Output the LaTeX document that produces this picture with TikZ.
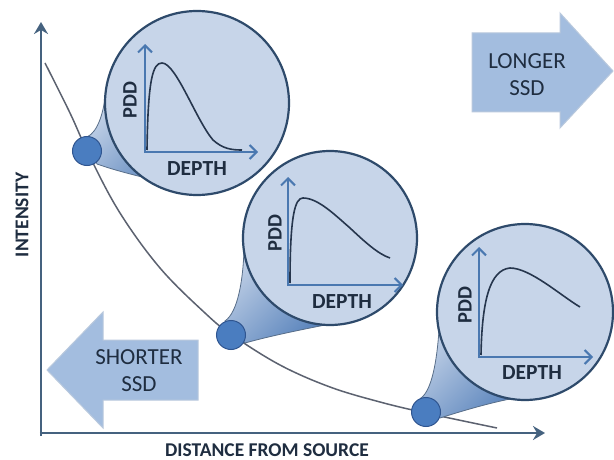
\documentclass[tikz,border=0pt]{standalone}
\usepackage{fontspec}
\setmainfont{Carlito}
\usetikzlibrary{arrows.meta}
\definecolor{circfill}{HTML}{C7D5E9}
\definecolor{circline}{HTML}{2E4A6B}
\definecolor{dotfill}{HTML}{4A7DC0}
\definecolor{dotline}{HTML}{2F5590}
\definecolor{miniaxis}{HTML}{4A78B0}
\definecolor{minicurve}{HTML}{26364D}
\definecolor{mainaxis}{HTML}{45627F}
\definecolor{maincurve}{HTML}{5C6270}
\definecolor{arrfill}{HTML}{A3BDDF}
\definecolor{arrline}{HTML}{B9C9DD}
\definecolor{txt}{HTML}{1F2D40}
\definecolor{taildark}{HTML}{5A84BC}
\tikzset{
  bubble/.style={draw=circline, line width=2.2pt, fill=circfill},
  tail/.style={draw=circline!80, line width=0.8pt, top color=circfill, bottom color=taildark, shading angle=45},
  dotstyle/.style={circle, draw=dotline, line width=1pt, fill=dotfill, minimum size=29pt, inner sep=0pt},
  miniax/.style={draw=miniaxis, line width=2pt, -{Straight Barb[length=7pt,width=14pt,line width=2pt]}},
  minicv/.style={draw=minicurve, line width=1.6pt},
  lbl/.style={text=txt, font=\fontsize{21.5}{24}\selectfont\bfseries, inner sep=0pt},
  pddlbl/.style={text=txt, font=\fontsize{20.5}{24}\selectfont\bfseries, inner sep=0pt, rotate=90},
  biglbl/.style={text=txt, font=\fontsize{19.5}{22}\selectfont\bfseries, inner sep=0pt},
  arrtxt/.style={text=txt, font=\fontsize{23}{27}\selectfont, align=center, inner sep=0pt},
  bigarrow/.style={fill=arrfill, draw=arrline, line width=1pt},
  mainax/.style={draw=mainaxis, line width=2.5pt, -{Stealth[length=12pt,width=14pt,inset=4pt]}}
}
\begin{document}
\begin{tikzpicture}[x=1pt,y=-1pt]
\useasboundingbox (0,0) rectangle (614,460);
\fill[white] (0,0) rectangle (614,460);

% big arrows
\draw[bigarrow] (472,33) -- (560,33) -- (560,13) -- (613,71) -- (560,128) -- (560,112) -- (472,112) -- cycle;
\node[arrtxt] (longer) at (527,75) {LONGER\\SSD};
\draw[bigarrow] (198,340) -- (103,340) -- (103,312) -- (47,370) -- (103,428) -- (103,400) -- (198,400) -- cycle;
\node[arrtxt] (shorter) at (139,371) {SHORTER\\SSD};

% main axes
\coordinate (ytop) at (41,22);
\coordinate (xend) at (545,433);
\draw[mainax] (41,436) -- (ytop);
\draw[mainax] (39.8,433) -- (xend);
\node[biglbl, rotate=90] (ylabel) at (22,215) {INTENSITY};
\node[biglbl] (xlabel) at (267,450) {DISTANCE FROM SOURCE};

% main curve
\draw[maincurve, line width=1.5pt] plot[smooth, tension=0.6] coordinates {(45,63) (70,113) (90,157) (120,213) (160,268) (205,313) (232,335) (280,365) (330,387) (380,402) (426,413) (497,428)};

% ---------- bubble 1 ----------
\coordinate (c1) at (197,103);
\path[tail] (87,137) .. controls (98,132) and (104,112) .. (106,90) -- (c1) -- (142,177) .. controls (122,172) and (108,168) .. (97,164) -- cycle;
\draw[bubble] (c1) circle[radius=92];
\node[dotstyle] (d1) at (87,151) {};
\draw[miniax] (145,153) -- (145,44);
\draw[miniax] (144,152) -- (258,152);
\draw[minicv] (147,150) .. controls (148,78) and (153,63) .. (162,63) .. controls (176,63) and (196,120) .. (213,140) .. controls (223,149) and (232,150) .. (242,150);
\node[pddlbl] (p1) at (130,100) {PDD};
\node[lbl] (x1) at (197,169) {DEPTH};

% ---------- bubble 2 ----------
\coordinate (c2) at (330,238);
\path[tail] (225,321) .. controls (238,312) and (243,280) .. (244,250) -- (c2) -- (325,325) .. controls (300,330) and (270,336) .. (245,343) -- cycle;
\draw[bubble] (c2) circle[radius=87];
\node[dotstyle] (d2) at (231,335) {};
\draw[miniax] (288,286) -- (288,177);
\draw[miniax] (287,285) -- (403,285);
\draw[minicv] (290,283) .. controls (290,215) and (295,198) .. (303,198) .. controls (318,198) and (335,215) .. (350,228) .. controls (365,242) and (378,254) .. (390,258);
\node[pddlbl] (p2) at (275,233) {PDD};
\node[lbl] (x2) at (342,302) {DEPTH};

% ---------- bubble 3 ----------
\coordinate (c3) at (525,312);
\path[tail] (421,398) .. controls (432,390) and (437,360) .. (439,330) -- (c3) -- (510,399) .. controls (490,403) and (465,410) .. (440,418) -- cycle;
\draw[bubble] (c3) circle[radius=88];
\node[dotstyle] (d3) at (426,412) {};
\draw[miniax] (479,358) -- (479,247);
\draw[miniax] (478,357) -- (593,357);
\draw[minicv] (481,355) .. controls (482,300) and (490,270) .. (510,268) .. controls (530,268) and (560,295) .. (580,307);
\node[pddlbl] (p3) at (465,305) {PDD};
\node[lbl] (x3) at (532,373) {DEPTH};
\end{tikzpicture}
\end{document}
